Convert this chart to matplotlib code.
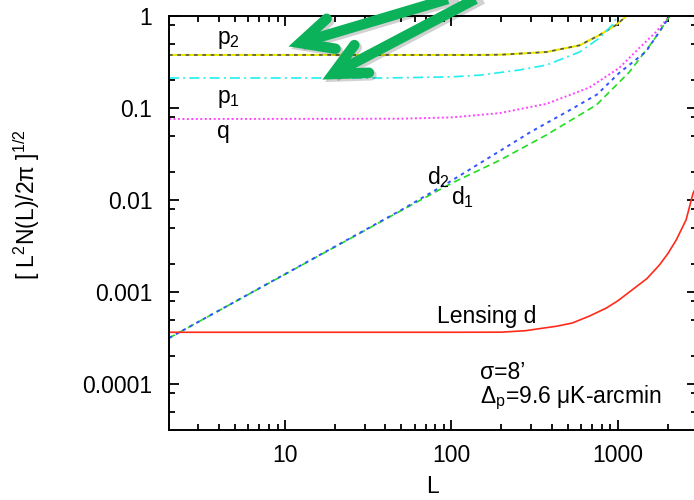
import numpy as np
import matplotlib
matplotlib.use("Agg")
import matplotlib.pyplot as plt
from matplotlib.lines import Line2D
from matplotlib.ticker import LogLocator, FixedLocator, FixedFormatter, NullFormatter

plt.rcParams['font.family'] = ['Liberation Sans', 'DejaVu Sans']
plt.rcParams['mathtext.fontset'] = 'custom'
plt.rcParams['mathtext.rm'] = 'Liberation Sans'
plt.rcParams['mathtext.it'] = 'Liberation Sans:italic'
plt.rcParams['mathtext.bf'] = 'Liberation Sans:bold'

# noise curves (L, value)
L_p2 = [2, 150, 200, 373, 590, 777, 980, 1130, 1200]
v_p2 = [0.377, 0.377, 0.38, 0.406, 0.48, 0.62, 0.8, 1.0, 1.1]

L_cyan = [2, 40, 100, 150, 257, 373, 590, 777, 927, 1000, 1050]
v_cyan = [0.212, 0.212, 0.218, 0.228, 0.259, 0.293, 0.406, 0.576, 0.8, 1.0, 1.15]

L_q = [2, 50, 100, 195, 373, 676, 1020, 1350, 1700, 2000, 2100]
v_q = [0.0759, 0.0765, 0.079, 0.088, 0.111, 0.167, 0.272, 0.45, 0.67, 0.95, 1.05]

L_d2 = [2, 50, 100, 195, 300, 500, 750, 1020, 1480, 1950, 2050]
v_d2 = [3.16e-4, 7.8e-3, 0.0162, 0.034, 0.055, 0.092, 0.14, 0.24, 0.41, 0.86, 1.0]

L_d1 = [2, 50, 100, 195, 373, 745, 1175, 1615, 1950, 2050]
v_d1 = [3.16e-4, 7.7e-3, 0.0152, 0.027, 0.051, 0.108, 0.246, 0.52, 0.86, 1.0]

L_lens = [2, 100, 200, 280, 340, 430, 533, 680, 855, 1000, 1176, 1500, 1780,
          2000, 2250, 2580, 2843, 3000]
v_lens = [3.65e-4, 3.65e-4, 3.66e-4, 3.8e-4, 4.0e-4, 4.25e-4, 4.6e-4, 5.5e-4,
          6.7e-4, 8.0e-4, 1.0e-3, 1.4e-3, 1.96e-3, 2.6e-3, 3.67e-3, 6.1e-3,
          0.0119, 0.0145]

x_ticks = [10, 100, 1000]
x_labels = ['10', '100', '1000']
y_ticks = [1e-4, 1e-3, 1e-2, 1e-1, 1]
y_labels = ['0.0001', '0.001', '0.01', '0.1', '1']

fs = 16.5

fig = plt.figure(figsize=(6.94, 5.0), dpi=100)
ax = fig.add_axes([169 / 694, 70 / 500, 528 / 694, 414 / 500])
ax.set_xscale('log')
ax.set_yscale('log')
ax.set_xlim(2, 3000)
ax.set_ylim(10 ** -4.5, 1)

lw = 1.2
ax.plot(L_p2, v_p2, color='#e8e800', lw=lw + 0.3)
ax.plot(L_p2, v_p2, color='#555555', lw=lw, ls=(0, (2.2, 2.8)))
ax.plot(L_cyan, v_cyan, color='#22eeee', lw=lw, ls=(0, (6, 2.5, 1.2, 2.5)))
ax.plot(L_q, v_q, color='#ff44ff', lw=lw + 0.2, ls=(0, (1, 1.3)))
ax.plot(L_d1, v_d1, color='#22dd22', lw=lw, ls=(0, (4, 2.5)))
ax.plot(L_d2, v_d2, color='#3355ff', lw=lw + 0.2, ls=(0, (1.8, 2.2)))
ax.plot(L_lens, v_lens, color='#ff2a1a', lw=lw)

ax.xaxis.set_major_locator(FixedLocator(x_ticks))
ax.xaxis.set_major_formatter(FixedFormatter(x_labels))
ax.xaxis.set_minor_locator(LogLocator(base=10, subs=range(2, 10), numticks=20))
ax.xaxis.set_minor_formatter(NullFormatter())
ax.yaxis.set_major_locator(FixedLocator(y_ticks))
ax.yaxis.set_major_formatter(FixedFormatter(y_labels))
ax.yaxis.set_minor_locator(LogLocator(base=10, subs=(2, 5, 8), numticks=20))
ax.yaxis.set_minor_formatter(NullFormatter())

ax.tick_params(which='both', direction='in', top=True, right=True, width=1.3,
               labelsize=fs, color='black')
ax.tick_params(which='major', length=7.5)
ax.tick_params(which='minor', length=4)
ax.tick_params(axis='y', which='major', pad=12)
ax.tick_params(axis='x', which='major', pad=10)
for s in ax.spines.values():
    s.set_linewidth(1.4)

ax.set_xlabel('L', fontsize=fs)
ax.xaxis.set_label_coords(0.5, -0.108)
ax.set_ylabel(r'[ L$^{2}$N(L)/2π ]$^{1/2}$', fontsize=fs)
ax.yaxis.set_label_coords(-0.24, 0.545)

txt = dict(fontsize=fs, ha='left', va='center')
ax.text(3.9, 0.55, r'p$_{2}$', **txt)
ax.text(3.9, 0.128, r'p$_{1}$', **txt)
ax.text(3.9, 0.055, 'q', **txt)
ax.text(71, 0.0178, r'd$_{2}$', **txt)
ax.text(100, 0.0108, r'd$_{1}$', **txt)
ax.text(82, 5.4e-4, 'Lensing d', **txt)
ax.text(148, 1.32e-4, 'σ=8’', **txt)
ax.text(148, 7.1e-5, r'$\Delta_{\rm p}$=9.6 μK-arcmin', **txt)

# green call-out arrows, drawn in figure pixels (tail off the top edge)
W, H = 694.0, 500.0
green = '#0cb25a'


def px(x, y):
    return x / W, 1 - y / H


for tail, tip in [((478, -10), (300, 43)), ((500, -14), (333, 74))]:
    ang = np.arctan2(tail[1] - tip[1], tail[0] - tip[0])
    arms = []
    for d in (-0.45, 0.45):
        arms.append((tip[0] + 36 * np.cos(ang + d), tip[1] + 36 * np.sin(ang + d)))
    for shadow, col, a in [(2.5, 'black', 0.18), (0, green, 1.0)]:
        pts = [tail, tip]
        xs, ys = zip(*[px(p[0] + shadow, p[1] + shadow) for p in pts])
        fig.add_artist(Line2D(xs, ys, transform=fig.transFigure, color=col,
                              alpha=a, lw=7.5, solid_capstyle='butt'))
        xs, ys = zip(*[px(p[0] + shadow, p[1] + shadow) for p in (arms[0], tip, arms[1])])
        fig.add_artist(Line2D(xs, ys, transform=fig.transFigure, color=col,
                              alpha=a, lw=7.5, solid_capstyle='round',
                              solid_joinstyle='miter'))

fig.savefig('out.png', dpi=100)
